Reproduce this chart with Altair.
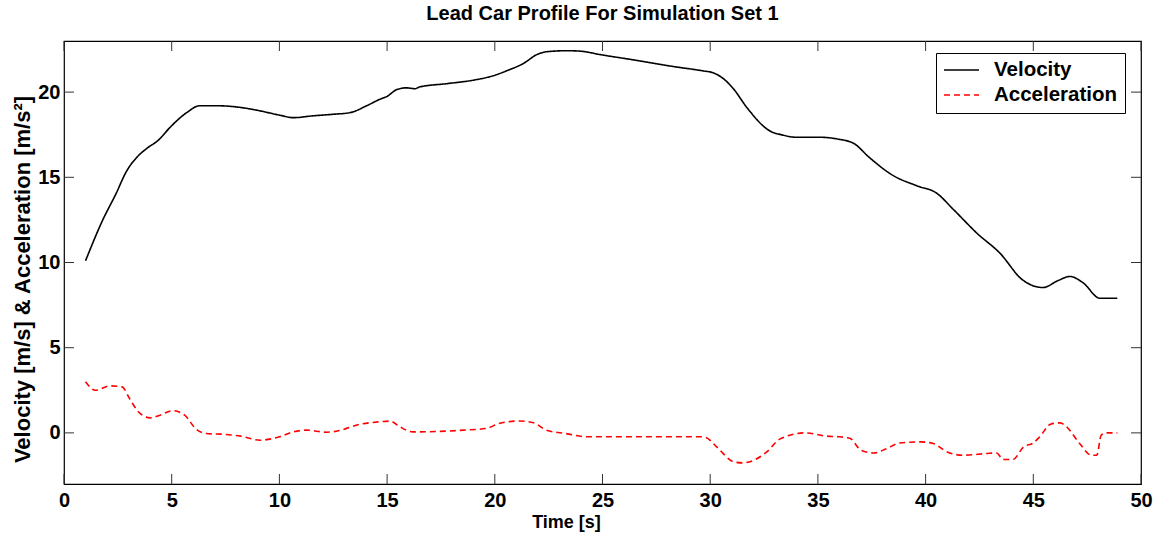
import altair as alt
import pandas as pd

# Lead car velocity profile [m/s]
vel_t = [1.0, 1.8, 2.4, 2.9, 3.4, 3.85, 4.4, 4.9, 5.7, 6.3, 7.1, 8.2, 9.1, 10.0,
         10.65, 11.5, 12.5, 13.3, 14.05, 14.7, 15.0, 15.45, 15.9, 16.3, 16.5, 17.8,
         19.0, 19.9, 20.55, 21.35, 21.95, 22.4, 23.35, 24.0, 24.9, 26.4, 28.3, 29.7,
         30.1, 30.6, 31.1, 31.7, 32.8, 33.3, 34.0, 35.1, 35.9, 36.65, 37.4, 38.5,
         39.6, 40.5, 41.3, 42.4, 43.45, 44.5, 45.45, 46.15, 46.7, 47.3, 48.1, 48.9]
vel_v = [10.1, 12.5, 14.0, 15.35, 16.2, 16.7, 17.2, 17.9, 18.8, 19.2, 19.2, 19.1, 18.9, 18.65,
         18.5, 18.6, 18.7, 18.8, 19.2, 19.6, 19.75, 20.15, 20.25, 20.2, 20.3, 20.5,
         20.7, 20.95, 21.25, 21.7, 22.2, 22.37, 22.43, 22.4, 22.2, 21.9, 21.5, 21.24,
         21.15, 20.8, 20.16, 19.1, 17.7, 17.5, 17.35, 17.35, 17.25, 17.0, 16.15, 15.1,
         14.5, 14.08, 13.1, 11.7, 10.55, 8.98, 8.53, 8.94, 9.18, 8.82, 7.9, 7.9]

# Lead car acceleration profile [m/s^2]
acc_t = [1.0, 1.45, 2.15, 2.7, 3.05, 3.45, 4.0, 4.45, 5.05, 5.6, 6.15, 6.6, 7.4, 8.2, 9.1,
         10.0, 10.65, 11.25, 12.2, 12.65, 13.75, 14.65, 15.15, 15.6, 16.2, 17.3, 18.55,
         19.6, 20.2, 21.15, 21.8, 22.4, 23.3, 24.3, 26.4, 29.6, 29.8, 30.3, 31.1, 31.5,
         32.6, 33.25, 34.4, 35.4, 36.0, 36.5, 37.0, 37.6, 38.2, 38.8, 39.75, 40.35, 41.0,
         41.75, 42.85, 43.3, 43.6, 44.05, 44.55, 45.0, 45.3, 45.8, 46.25, 46.55, 47.15,
         47.7, 47.95, 48.15, 48.4, 48.9]
acc_a = [3.0, 2.5, 2.76, 2.7, 2.0, 1.24, 0.88, 1.04, 1.3, 1.04, 0.2, -0.04, -0.08, -0.19, -0.43,
         -0.23, 0.06, 0.16, 0.04, 0.1, 0.51, 0.65, 0.69, 0.35, 0.06, 0.08, 0.16,
         0.26, 0.55, 0.7, 0.59, 0.16, -0.04, -0.23, -0.23, -0.23, -0.27, -0.82, -1.7, -1.76,
         -1.15, -0.35, 0.0, -0.19, -0.23, -0.33, -1.02, -1.18, -0.92, -0.59, -0.53, -0.62, -1.12,
         -1.31, -1.21, -1.18, -1.56, -1.56, -0.82, -0.59, -0.23, 0.51, 0.59, 0.35, -0.62,
         -1.31, -1.31, -0.14, 0.0, 0.0]

series_names = ["Velocity", "Acceleration"]
x_ticks = [0, 5, 10, 15, 20, 25, 30, 35, 40, 45, 50]
y_ticks = [0, 5, 10, 15, 20]

W, H = 1077, 443
FONT = "Liberation Sans"

df = pd.concat([
    pd.DataFrame({"t": vel_t, "v": vel_v, "series": series_names[0]}),
    pd.DataFrame({"t": acc_t, "v": acc_a, "series": series_names[1]}),
])

x_scale = alt.Scale(domain=[0, 50], nice=False, zero=False)
y_scale = alt.Scale(domain=[-3, 23], nice=False, zero=False)

lines = alt.Chart(df).mark_line(strokeWidth=1.6, interpolate="monotone").encode(
    x=alt.X("t:Q", scale=x_scale,
            axis=alt.Axis(values=x_ticks, title="Time [s]", titleX=502, titleY=43,
                          titleBaseline="alphabetic", labelFlush=False)),
    y=alt.Y("v:Q", scale=y_scale,
            axis=alt.Axis(values=y_ticks, title="Velocity [m/s] & Acceleration [m/s²]",
                          titleAngle=270, titleX=-42, titleY=238,
                          titleAlign="center", titleBaseline="middle", labelFlush=False)),
    color=alt.Color("series:N",
                    scale=alt.Scale(domain=series_names, range=["#000000", "#ff0000"]),
                    sort=series_names,
                    legend=alt.Legend(title=None, orient="none", legendX=872, legendY=12,
                                      direction="vertical", strokeColor="black",
                                      fillColor="white", padding=7, labelFont=FONT,
                                      labelFontSize=20.5, labelFontWeight="bold",
                                      labelColor="black", symbolType="stroke",
                                      symbolSize=1225, symbolStrokeWidth=1.5,
                                      labelOffset=14, rowPadding=4, clipHeight=20)),
    strokeDash=alt.StrokeDash("series:N",
                              scale=alt.Scale(domain=series_names, range=[[1, 0], [6, 4]]),
                              sort=series_names, legend=alt.Legend(title=None)),
    detail="series:N",
)

# inward-pointing ticks on all four sides of the box
xt = pd.DataFrame({"t": x_ticks})
yt = pd.DataFrame({"v": y_ticks})
tick_color = "#333333"
bottom_ticks = alt.Chart(xt).mark_rule(color=tick_color, strokeWidth=1).encode(
    x=alt.X("t:Q", scale=x_scale), y=alt.value(H), y2=alt.value(H - 10))
top_ticks = alt.Chart(xt).mark_rule(color=tick_color, strokeWidth=1).encode(
    x=alt.X("t:Q", scale=x_scale), y=alt.value(0), y2=alt.value(10))
left_ticks = alt.Chart(yt).mark_rule(color=tick_color, strokeWidth=1).encode(
    y=alt.Y("v:Q", scale=y_scale), x=alt.value(0), x2=alt.value(10))
right_ticks = alt.Chart(yt).mark_rule(color=tick_color, strokeWidth=1).encode(
    y=alt.Y("v:Q", scale=y_scale), x=alt.value(W), x2=alt.value(W - 10))

chart = alt.layer(bottom_ticks, top_ticks, left_ticks, right_ticks, lines).properties(
    width=W, height=H,
    title=alt.Title("Lead Car Profile For Simulation Set 1", font=FONT, fontSize=20,
                    fontWeight="bold", color="black", anchor="middle", offset=17),
    autosize=alt.AutoSizeParams(type="none"),
    padding={"left": 64, "top": 41, "right": 17, "bottom": 52},
).configure_view(
    stroke="black", strokeWidth=1.2
).configure_axis(
    ticks=False, domain=False, grid=False,
    labelFont=FONT, labelFontSize=20, labelFontWeight="bold", labelColor="black",
    titleFont=FONT, titleFontSize=19, titleFontWeight="bold", titleColor="black",
    labelPadding=4,
).configure_axisX(
    titleFontSize=18, labelPadding=6,
).configure_axisY(
    titleFontSize=22,
)

chart.save("out.html", embed_options={"renderer": "svg", "actions": False})
